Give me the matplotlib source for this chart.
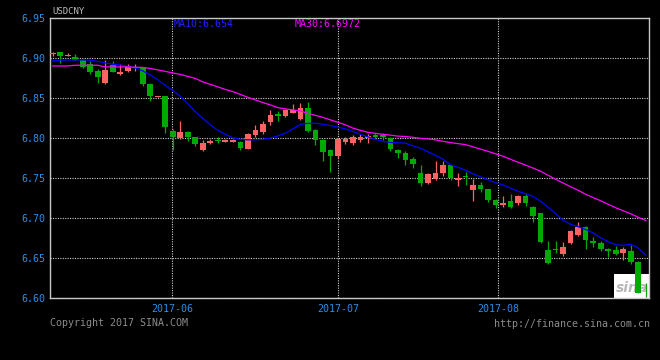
import matplotlib
matplotlib.use("Agg")
import matplotlib.pyplot as plt
import numpy as np

# ── data (USDCNY daily) ───────────────────────────────────────────────────────
OPEN = [6.905, 6.907, 6.903, 6.901, 6.897, 6.892, 6.884, 6.869, 6.891, 6.880,
        6.884, 6.888, 6.887, 6.868, 6.851, 6.852, 6.809, 6.800, 6.808, 6.801,
        6.785, 6.794, 6.798, 6.795, 6.795, 6.795, 6.787, 6.804, 6.808, 6.820,
        6.830, 6.828, 6.832, 6.824, 6.837, 6.810, 6.798, 6.785, 6.778, 6.795,
        6.794, 6.798, 6.800, 6.804, 6.804, 6.800, 6.785, 6.782, 6.774, 6.757,
        6.744, 6.749, 6.757, 6.766, 6.748, 6.752, 6.735, 6.742, 6.736, 6.723,
        6.716, 6.721, 6.719, 6.728, 6.714, 6.706, 6.660, 6.661, 6.655, 6.669,
        6.679, 6.689, 6.672, 6.669, 6.661, 6.660, 6.656, 6.659, 6.645, 6.607]
HIGH = [6.908, 6.908, 6.906, 6.905, 6.899, 6.896, 6.886, 6.897, 6.896, 6.893,
        6.893, 6.893, 6.889, 6.869, 6.852, 6.853, 6.811, 6.822, 6.809, 6.802,
        6.798, 6.799, 6.801, 6.799, 6.799, 6.796, 6.807, 6.817, 6.821, 6.835,
        6.834, 6.836, 6.842, 6.844, 6.845, 6.811, 6.799, 6.786, 6.800, 6.802,
        6.804, 6.805, 6.805, 6.806, 6.806, 6.801, 6.787, 6.784, 6.776, 6.766,
        6.757, 6.772, 6.771, 6.767, 6.756, 6.758, 6.749, 6.745, 6.737, 6.724,
        6.728, 6.730, 6.729, 6.731, 6.715, 6.707, 6.672, 6.672, 6.670, 6.685,
        6.695, 6.690, 6.676, 6.672, 6.663, 6.665, 6.664, 6.666, 6.646, 6.619]
LOW = [6.903, 6.894, 6.902, 6.898, 6.888, 6.880, 6.869, 6.868, 6.882, 6.879,
       6.883, 6.884, 6.865, 6.846, 6.851, 6.807, 6.785, 6.799, 6.796, 6.790,
       6.784, 6.793, 6.794, 6.795, 6.795, 6.785, 6.786, 6.801, 6.805, 6.817,
       6.821, 6.827, 6.832, 6.823, 6.808, 6.792, 6.771, 6.758, 6.775, 6.793,
       6.791, 6.795, 6.794, 6.799, 6.798, 6.784, 6.775, 6.766, 6.763, 6.740,
       6.743, 6.748, 6.753, 6.748, 6.740, 6.741, 6.722, 6.733, 6.720, 6.713,
       6.714, 6.713, 6.717, 6.715, 6.695, 6.669, 6.643, 6.657, 6.653, 6.668,
       6.678, 6.662, 6.664, 6.659, 6.651, 6.654, 6.648, 6.643, 6.606, 6.602]
CLOSE = [6.906, 6.902, 6.904, 6.898, 6.889, 6.883, 6.876, 6.885, 6.883, 6.883,
         6.890, 6.889, 6.868, 6.852, 6.852, 6.814, 6.801, 6.808, 6.802, 6.793,
         6.794, 6.797, 6.797, 6.798, 6.798, 6.788, 6.805, 6.810, 6.818, 6.829,
         6.828, 6.835, 6.835, 6.838, 6.809, 6.798, 6.783, 6.778, 6.799, 6.799,
         6.802, 6.802, 6.803, 6.801, 6.802, 6.786, 6.782, 6.773, 6.768, 6.744,
         6.755, 6.757, 6.766, 6.750, 6.750, 6.751, 6.741, 6.736, 6.723, 6.717,
         6.719, 6.714, 6.728, 6.719, 6.703, 6.670, 6.644, 6.660, 6.664, 6.684,
         6.689, 6.673, 6.669, 6.661, 6.659, 6.655, 6.661, 6.645, 6.607, 6.606]
MA10 = [6.8964, 6.8973, 6.8976, 6.8976, 6.8976, 6.8974, 6.8958, 6.8939, 6.8923, 6.8914,
        6.8895, 6.8877, 6.8839, 6.8789, 6.8729, 6.8658, 6.8596, 6.8521, 6.8428, 6.8328,
        6.8247, 6.8166, 6.8097, 6.8047, 6.8004, 6.7985, 6.7979, 6.7979, 6.7985, 6.8000,
        6.8029, 6.8060, 6.8116, 6.8172, 6.8184, 6.8187, 6.8172, 6.8157, 6.8137, 6.8116,
        6.8082, 6.8047, 6.8016, 6.7985, 6.7960, 6.7945, 6.7941, 6.7938, 6.7904, 6.7873,
        6.7829, 6.7785, 6.7736, 6.7667, 6.7636, 6.7598, 6.7555, 6.7517, 6.7480, 6.7442,
        6.7417, 6.7374, 6.7336, 6.7305, 6.7272, 6.7212, 6.7137, 6.7056, 6.6975, 6.6925,
        6.6894, 6.6860, 6.6815, 6.6757, 6.6707, 6.6669, 6.6661, 6.6676, 6.6628, 6.6540]
MA30 = [6.8901, 6.8901, 6.8901, 6.8910, 6.8910, 6.8910, 6.8910, 6.8889, 6.8889, 6.8889,
        6.8889, 6.8885, 6.8883, 6.8870, 6.8852, 6.8833, 6.8814, 6.8795, 6.8771, 6.8746,
        6.8702, 6.8671, 6.8640, 6.8608, 6.8581, 6.8546, 6.8509, 6.8477, 6.8444, 6.8415,
        6.8381, 6.8365, 6.8353, 6.8340, 6.8309, 6.8284, 6.8259, 6.8228, 6.8197, 6.8166,
        6.8125, 6.8097, 6.8072, 6.8060, 6.8047, 6.8037, 6.8025, 6.8020, 6.8010, 6.7997,
        6.7991, 6.7979, 6.7960, 6.7944, 6.7931, 6.7919, 6.7891, 6.7863, 6.7835, 6.7804,
        6.7773, 6.7736, 6.7698, 6.7663, 6.7626, 6.7586, 6.7536, 6.7486, 6.7439, 6.7393,
        6.7349, 6.7299, 6.7258, 6.7218, 6.7174, 6.7131, 6.7093, 6.7056, 6.7012, 6.6972]
MONTH_LABELS = ["2017-06", "2017-07", "2017-08"]
MONTH_POS = [15.87, 38.0, 59.35]
Y_TICKS = [6.60, 6.65, 6.70, 6.75, 6.80, 6.85, 6.90, 6.95]

# ── style ─────────────────────────────────────────────────────────────────────
UP = "#FF6262"
DOWN = "#00AA00"
TXT_BLUE = "#2A8FE8"
GRID = "#D0D0D0"
FRAME = "#C8C8C8"
MONO = "DejaVu Sans Mono"

o, h, l, c = map(np.array, (OPEN, HIGH, LOW, CLOSE))
x = np.arange(len(o))
up = c >= o
colors = np.where(up, UP, DOWN)

fig = plt.figure(figsize=(6.6, 3.6), dpi=100)
fig.patch.set_facecolor("black")
ax = fig.add_axes([50 / 660, 1 - 298.3 / 360, 599 / 660, 280.3 / 360])
ax.set_facecolor("black")

# grid
for yv in Y_TICKS[:-1]:
    ax.axhline(yv, color=GRID, lw=0.8, ls=(0, (1, 1.2)), zorder=1)
for xv in MONTH_POS:
    ax.axvline(xv, color=GRID, lw=0.8, ls=(0, (1, 1.2)), zorder=1)

# sina watermark box (bottom-right corner of the plot)
ax.add_patch(plt.Rectangle((0.942, 0.0), 0.058, 0.087, transform=ax.transAxes,
                           facecolor="white", edgecolor="none", zorder=2))
ax.text(0.971, 0.035, "sina", transform=ax.transAxes, ha="center",
        va="center", fontsize=10, color="#B8B8B8", style="italic",
        fontweight="bold", zorder=2)

# candles
ax.vlines(x, l, h, colors=colors, lw=0.9, zorder=3)
body = np.maximum(np.abs(c - o), 0.0011)
ax.bar(x, body, bottom=np.minimum(o, c), width=0.76, color=colors,
       linewidth=0, zorder=4)

# moving averages
ax.plot(x, MA10, color="#0000FF", lw=0.9, zorder=5)
ax.plot(x, MA30, color="#FF00FF", lw=0.9, zorder=5)

ax.set_xlim(-0.36, 79.44)
ax.set_ylim(6.60, 6.95)
ax.set_yticks(Y_TICKS)
ax.set_yticklabels([f"{v:.2f}" for v in Y_TICKS])
ax.set_xticks(MONTH_POS)
ax.set_xticklabels(MONTH_LABELS)
ax.tick_params(length=0, labelsize=7.2, labelcolor=TXT_BLUE)
ax.tick_params(axis="y", pad=3)
ax.tick_params(axis="x", pad=4)
for lab in ax.get_xticklabels() + ax.get_yticklabels():
    lab.set_family(MONO)
for sp in ax.spines.values():
    sp.set_color(FRAME)
    sp.set_linewidth(1.0)

# header texts
fig.text(52 / 660, 1 - 11 / 360, "USDCNY", fontsize=6.5, family=MONO,
         color="#BBBBBB", va="center", ha="left")
fig.text(174 / 660, 1 - 24 / 360, f"MA10:{MA10[-1]:.3f}", fontsize=7.2,
         family=MONO, color="#2222FF", va="center", ha="left")
fig.text(295 / 660, 1 - 24 / 360, f"MA30:{MA30[-1]:.4f}", fontsize=7.2,
         family=MONO, color="#FF00FF", va="center", ha="left")

# footer
fig.text(50 / 660, 1 - 323.5 / 360, "Copyright 2017 SINA.COM", fontsize=7.2,
         family=MONO, color="#8C8C8C", va="center", ha="left")
fig.text(650 / 660, 1 - 324 / 360, "http://finance.sina.com.cn", fontsize=7.2,
         family=MONO, color="#8C8C8C", va="center", ha="right")

fig.savefig("out.png", dpi=100, facecolor="black")
